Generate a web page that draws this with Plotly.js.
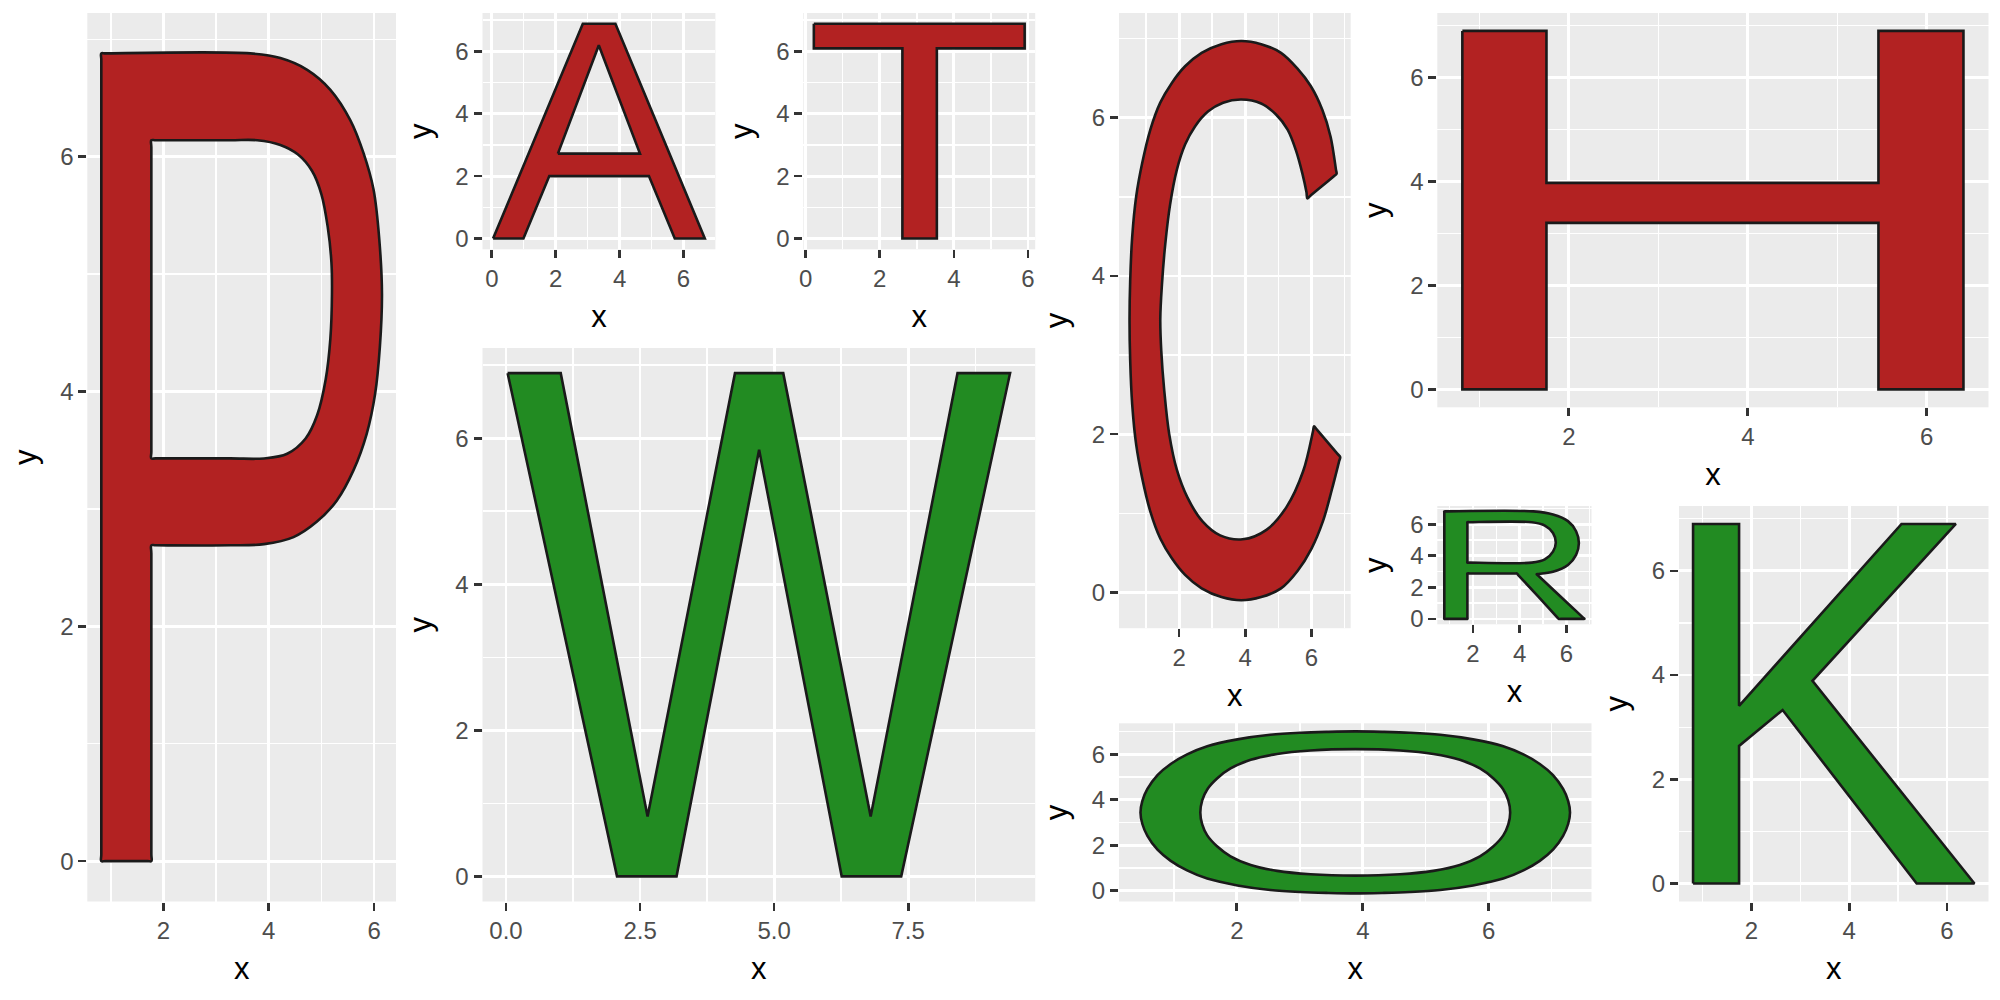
<!DOCTYPE html>
<html>
<head>
<meta charset="utf-8">
<script src="https://cdn.plot.ly/plotly-3.0.1.min.js"></script>
<style>html,body{margin:0;padding:0;background:#fff;}#chart{width:2000px;height:1000px;}</style>
</head>
<body>
<div id="chart"></div>
<script>
// ---- Letter outlines (x, y values; null separates rings) ----
var letters = ["P", "A", "T", "C", "H", "W", "O", "R", "K"];

var pX = [0.82,0.82,0.82,0.82,0.90,3.65,4.22,4.73,5.17,5.55,5.80,5.99,6.10,6.15,6.11,6.02,5.86,5.61,5.29,4.91,4.47,3.91,3.27,1.85,1.77,1.77,1.77,1.77,1.70,0.90,0.82,null,
          1.77,1.77,1.77,1.77,1.85,3.27,3.91,4.35,4.70,4.92,5.08,5.17,5.20,5.19,5.12,5.00,4.82,4.55,4.22,3.78,3.27,1.85,1.77];
var pY = [0,0.06,6.82,6.88,6.88,6.88,6.84,6.74,6.57,6.31,6.03,5.72,5.29,4.83,4.38,3.98,3.64,3.33,3.07,2.89,2.76,2.70,2.69,2.69,2.69,2.62,0.06,0,0,0,0,null,
          6.14,6.08,3.49,3.43,3.43,3.43,3.43,3.47,3.60,3.80,4.10,4.45,4.83,5.10,5.40,5.68,5.88,6.02,6.10,6.14,6.14,6.14,6.14];

var aX = [0.04,0.99,1.80,4.92,5.73,6.67,3.87,2.85,0.04,null,2.07,3.35,4.64,2.07];
var aY = [0,0,2.0,2.0,0,0,6.88,6.88,0,null,2.72,6.19,2.72,2.72];

var tX = [0.22,5.91,5.91,3.54,3.54,2.61,2.61,0.22,0.22];
var tY = [6.88,6.88,6.09,6.09,0,0,6.09,6.09,6.88];

var cX = [6.76,6.74,6.58,6.33,5.98,5.58,5.08,4.48,3.88,3.28,2.68,2.18,1.78,1.43,1.13,0.88,0.70,0.58,0.52,0.50,0.52,
          0.58,0.70,0.88,1.13,1.43,1.78,2.18,2.68,3.28,3.88,4.48,5.08,5.58,6.00,6.35,6.62,6.84,6.87,
          6.79,6.16,6.08,6.05,5.75,5.25,4.64,3.92,3.24,2.70,2.25,1.93,1.70,1.55,1.46,1.43,1.48,1.58,1.73,1.93,
          2.18,2.48,2.88,3.33,3.88,4.48,4.93,5.28,5.53,5.73,5.85,5.88,5.96,6.68,6.76];
var cY = [5.29,5.35,5.76,6.10,6.40,6.62,6.82,6.93,6.97,6.93,6.82,6.65,6.44,6.19,5.85,5.42,5.00,4.49,3.94,3.44,2.93,
          2.38,1.87,1.45,1.02,0.68,0.43,0.22,0.05,-0.06,-0.10,-0.06,0.05,0.27,0.55,0.90,1.30,1.66,1.71,
          1.75,2.06,2.10,2.04,1.53,1.08,0.79,0.67,0.72,0.90,1.20,1.55,2.00,2.55,3.05,3.45,3.89,4.40,4.91,5.34,
          5.66,5.89,6.08,6.19,6.23,6.18,6.04,5.85,5.59,5.29,5.06,4.98,5.01,5.26,5.29];

var hX = [0.81,1.75,1.75,5.46,5.46,6.41,6.41,5.46,5.46,1.75,1.75,0.81,0.81];
var hY = [6.89,6.89,3.97,3.97,6.89,6.89,0,0,3.20,3.20,0,0,6.89];

var wX = [0.03,1.02,2.64,4.27,5.17,6.80,8.42,9.40,7.37,6.26,4.72,3.18,2.07,0.03];
var wY = [6.89,6.89,0.82,6.89,6.89,0.82,6.89,6.89,0,0,5.84,0,0,6.89];

var oX = [0.47,0.50,0.58,0.74,0.95,1.21,1.53,2.01,2.53,3.01,3.45,3.88,4.31,4.75,5.23,5.75,6.23,6.55,6.81,7.02,7.18,7.26,7.29,
          7.26,7.18,7.02,6.81,6.55,6.23,5.75,5.23,4.75,4.31,3.88,3.45,3.01,2.53,2.01,1.53,1.21,0.95,0.74,0.58,0.50,0.47,null,
          1.42,1.45,1.53,1.69,1.90,2.22,2.64,3.17,3.88,4.59,5.12,5.54,5.86,6.07,6.23,6.31,6.34,
          6.31,6.23,6.07,5.86,5.54,5.12,4.59,3.88,3.17,2.64,2.22,1.90,1.69,1.53,1.45,1.42];
var oY = [3.44,3.95,4.47,5.08,5.57,5.99,6.35,6.65,6.85,6.94,6.98,7.00,6.98,6.94,6.85,6.65,6.35,5.99,5.57,5.08,4.47,3.95,3.44,
          2.93,2.41,1.80,1.31,0.89,0.53,0.23,0.03,-0.06,-0.10,-0.12,-0.10,-0.06,0.03,0.23,0.53,0.89,1.31,1.80,2.41,2.93,3.44,null,
          3.44,2.91,2.43,1.94,1.51,1.13,0.87,0.72,0.66,0.72,0.87,1.13,1.51,1.94,2.43,2.91,3.44,
          3.97,4.45,4.94,5.37,5.75,6.01,6.16,6.22,6.16,6.01,5.75,5.37,4.94,4.45,3.97,3.44];

var rX = [0.77,0.77,0.77,0.77,0.87,4.59,5.43,6.07,6.42,6.54,6.42,6.07,5.43,4.81,4.73,4.78,6.72,6.78,6.68,5.77,5.67,5.63,3.93,3.88,3.78,1.86,1.76,1.76,1.76,1.76,1.66,0.87,0.77,null,
          1.76,1.76,1.76,1.76,1.86,4.52,5.08,5.43,5.55,5.43,5.08,4.52,1.86,1.76];
var rY = [0,0.10,6.72,6.82,6.82,6.82,6.62,6.20,5.56,4.81,4.06,3.42,2.99,2.85,2.84,2.77,0.08,0,0,0,0,0.07,2.80,2.88,2.88,2.88,2.88,2.78,0.10,0,0,0,0,null,
          6.13,6.03,3.67,3.57,3.57,3.57,3.78,4.27,4.85,5.45,5.92,6.13,6.13,6.13];

var kX = [0.81,0.81,1.75,1.75,5.07,6.18,3.25,6.56,5.38,2.64,1.75,1.75,0.81];
var kY = [0,6.90,6.90,3.41,6.90,6.90,3.89,0,0,3.33,2.64,0,0];

var letterX = [pX, aX, tX, cX, hX, wX, oX, rX, kX];
var letterY = [pY, aY, tY, cY, hY, wY, oY, rY, kY];
var letterFill = ["#B22222","#B22222","#B22222","#B22222","#B22222","#228B22","#228B22","#228B22","#228B22"];
var letterCurved = [true, false, false, true, false, false, true, true, false];

// ---- Tick labels ----
var ticks246 = [2, 4, 6];
var ticks0246 = [0, 2, 4, 6];
var ticksW = [0, 2.5, 5, 7.5];
var ticksWText = ["0.0", "2.5", "5.0", "7.5"];
var minorOdd = [-1, 1, 3, 5, 7];
var minorW = [-1.25, 1.25, 3.75, 6.25, 8.75];
var xTickVals = [ticks246, ticks0246, ticks0246, ticks246, ticks246, ticksW, ticks246, ticks246, ticks246];
var xTickText = [null, null, null, null, null, ticksWText, null, null, null];
var xMinor = [minorOdd, minorOdd, minorOdd, minorOdd, minorOdd, minorW, minorOdd, minorOdd, minorOdd];

// ---- Panel placement (pixels in a 2000 x 1000 canvas: left, right, top, bottom) ----
var panelBox = [
  [87.3, 396, 13, 901.5],      // P
  [482.5, 715.4, 13, 249.3],   // A
  [803.3, 1035.2, 13, 249.3],  // T
  [1119, 1350.7, 13, 628.2],   // C
  [1437.3, 1988.5, 13, 407.3], // H
  [482.5, 1035.2, 348, 901.5], // W
  [1119, 1591.5, 723.3, 901.5],// O
  [1437.3, 1591.5, 506, 624.3],// R
  [1679, 1988.5, 506, 901.5]   // K
];

var W = 2000, H = 1000;
function expandRange(arr) {
  var v = arr.filter(function (d) { return d !== null; });
  var lo = Math.min.apply(null, v), hi = Math.max.apply(null, v);
  var pad = (hi - lo) * 0.05;
  return [lo - pad, hi + pad];
}

var tickFont = {family: "Liberation Sans, Arial, sans-serif", size: 24, color: "#4D4D4D"};
var titleFont = {family: "Liberation Sans, Arial, sans-serif", size: 31, color: "#000000"};

var data = [];
var layout = {
  width: W, height: H,
  margin: {l: 0, r: 0, t: 0, b: 0},
  paper_bgcolor: "#FFFFFF",
  plot_bgcolor: "#EBEBEB",
  showlegend: false,
  hovermode: false,
  font: {family: "Liberation Sans, Arial, sans-serif"}
};

function baseAxis() {
  return {
    tickmode: "array",
    ticks: "outside", ticklen: 8, tickwidth: 2.7, tickcolor: "#333333",
    tickfont: tickFont,
    showgrid: true, gridcolor: "#FFFFFF", gridwidth: 2.8,
    zeroline: false, showline: false, fixedrange: true, automargin: false
  };
}

for (var i = 0; i < letters.length; i++) {
  var n = i === 0 ? "" : String(i + 1);
  var b = panelBox[i];
  var xa = baseAxis();
  xa.domain = [b[0] / W, b[1] / W];
  xa.range = expandRange(letterX[i]);
  xa.anchor = "y" + n;
  xa.tickvals = xTickVals[i];
  if (xTickText[i]) xa.ticktext = xTickText[i];
  xa.minor = {tickmode: "array", tickvals: xMinor[i], showgrid: true, gridcolor: "#FFFFFF", gridwidth: 1.4, ticks: ""};
  xa.title = {text: "x", font: titleFont, standoff: 14};

  var ya = baseAxis();
  ya.domain = [1 - b[3] / H, 1 - b[2] / H];
  ya.range = expandRange(letterY[i]);
  ya.anchor = "x" + n;
  ya.tickvals = ticks0246;
  ya.minor = {tickmode: "array", tickvals: minorOdd, showgrid: true, gridcolor: "#FFFFFF", gridwidth: 1.4, ticks: ""};
  ya.title = {text: "y", font: titleFont, standoff: 14};

  layout["xaxis" + n] = xa;
  layout["yaxis" + n] = ya;

  data.push({
    type: "scatter", mode: "lines",
    x: letterX[i], y: letterY[i],
    xaxis: "x" + n, yaxis: "y" + n,
    fill: "toself", fillcolor: letterFill[i],
    line: {color: "#1A1A1A", width: 2.6,
           shape: letterCurved[i] ? "spline" : "linear", smoothing: 1, simplify: false},
    connectgaps: false,
    name: letters[i],
    hoverinfo: "skip"
  });
}

Plotly.newPlot("chart", data, layout, {displayModeBar: false, staticPlot: true});
</script>
</body>
</html>
